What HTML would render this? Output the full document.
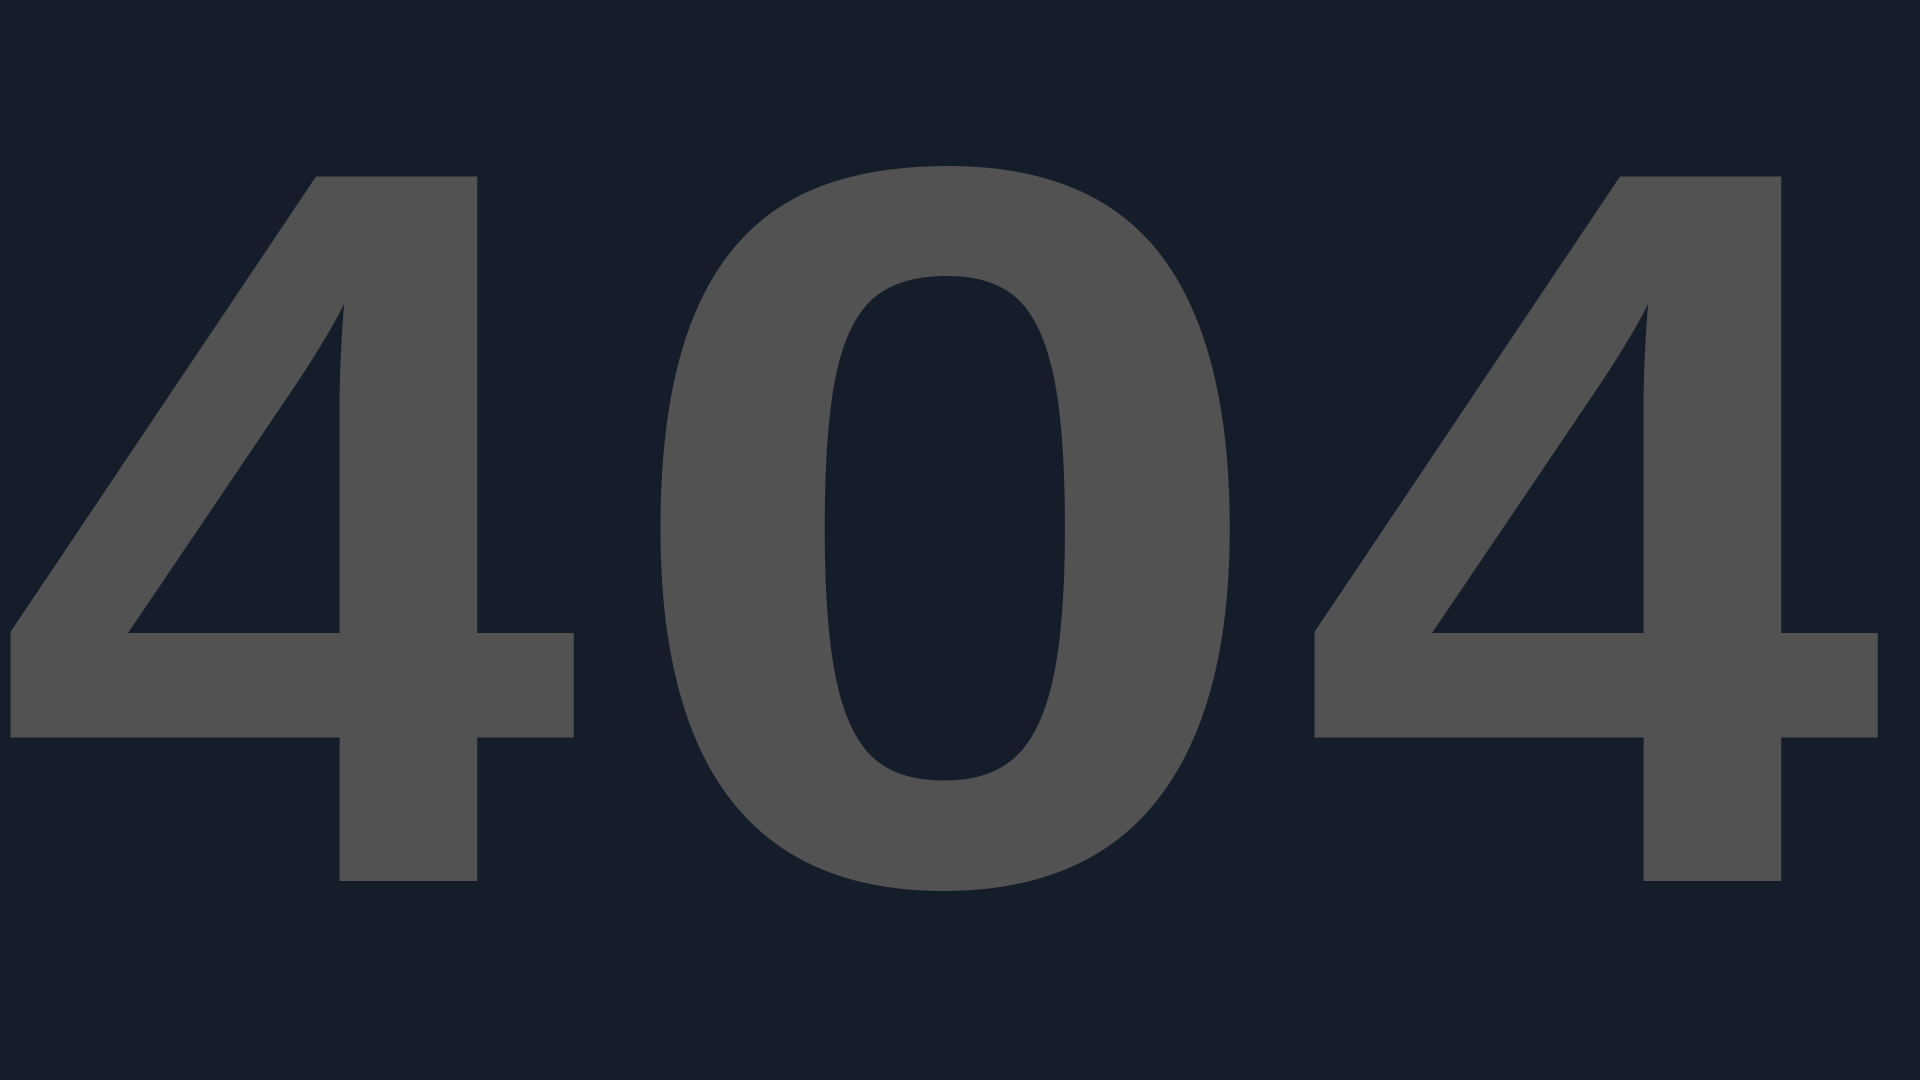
<!DOCTYPE html>
<html>
<head>
<meta charset="utf-8">
<style>
  html, body { margin: 0; padding: 0; }
  body { width: 1920px; height: 1080px; background: #161d2a; overflow: hidden; }
  svg { display: block; }
  text { font-family: "Liberation Sans", "DejaVu Sans", sans-serif; font-weight: bold; fill: #525252; }
</style>
</head>
<body>
<svg width="1920" height="1080" viewBox="0 0 1920 1080">
  <g transform="translate(287,881) scale(1.027,1)">
    <text x="0" y="0" font-size="1024" text-anchor="middle">4</text>
  </g>
  <g transform="translate(946,881) scale(1.169,1)">
    <text x="0" y="0" font-size="1024" text-anchor="middle">0</text>
  </g>
  <g transform="translate(1591,881) scale(1.027,1)">
    <text x="0" y="0" font-size="1024" text-anchor="middle">4</text>
  </g>
</svg>
</body>
</html>
